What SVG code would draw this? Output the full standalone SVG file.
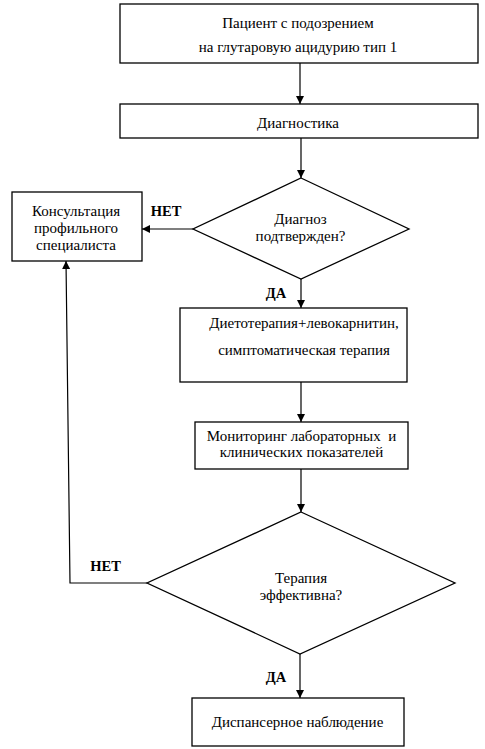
<svg xmlns="http://www.w3.org/2000/svg" width="485" height="749" viewBox="0 0 485 749">
<style>
.box{fill:#fff;stroke:#000;stroke-width:1.3}
.t{font-family:'Liberation Serif','Times New Roman','DejaVu Serif',serif;font-size:15px;fill:#000;text-anchor:middle;dominant-baseline:central}
.b{font-family:'Liberation Serif','Times New Roman','DejaVu Serif',serif;font-size:14.5px;font-weight:bold;fill:#000;text-anchor:middle;dominant-baseline:central}
.c{fill:none;stroke:#000;stroke-width:1.2}
</style>
<defs>
<marker id="ah" viewBox="0 0 10 10" refX="10" refY="5" markerWidth="8" markerHeight="8" markerUnits="userSpaceOnUse" orient="auto">
<path d="M0,0 L10,5 L0,10 z" fill="#000"/>
</marker>
</defs>
<rect width="485" height="749" fill="#fff"/>
<g id="connectors">
<line class="c" x1="300" y1="63" x2="300" y2="104" marker-end="url(#ah)"/>
<line class="c" x1="301" y1="138" x2="301" y2="178" marker-end="url(#ah)"/>
<line class="c" x1="193" y1="229" x2="142" y2="229" marker-end="url(#ah)"/>
<line class="c" x1="301" y1="279" x2="301" y2="308" marker-end="url(#ah)"/>
<line class="c" x1="301" y1="382" x2="301" y2="422" marker-end="url(#ah)"/>
<line class="c" x1="301" y1="469" x2="301" y2="512" marker-end="url(#ah)"/>
<polyline class="c" points="147,583 70,583 66,261" marker-end="url(#ah)"/>
<line class="c" x1="300" y1="654" x2="300" y2="698" marker-end="url(#ah)"/>
</g>
<g id="n1">
<rect class="box" x="120" y="4" width="358" height="59"/>
<text class="t" x="298" y="23">Пациент с подозрением</text>
<text class="t" x="298" y="47">на глутаровую ацидурию тип 1</text>
</g>
<g id="n2">
<rect class="box" x="120" y="104" width="358" height="34"/>
<text class="t" x="298" y="123">Диагностика</text>
</g>
<g id="d1">
<polygon class="box" points="301,178 409,229 301,279 193,229"/>
<text class="t" x="300.5" y="219">Диагноз</text>
<text class="t" x="300.5" y="236">подтвержден?</text>
</g>
<g id="n_consult">
<rect class="box" x="12" y="192" width="130" height="69"/>
<text class="t" x="76" y="211">Консультация</text>
<text class="t" x="76" y="228">профильного</text>
<text class="t" x="76" y="245">специалиста</text>
</g>
<g id="n3">
<rect class="box" x="180" y="308" width="227" height="74"/>
<text class="t" x="304" y="323">Диетотерапия+левокарнитин,</text>
<text class="t" x="304" y="350">симптоматическая терапия</text>
</g>
<g id="n4">
<rect class="box" x="195" y="422" width="213" height="47"/>
<text class="t" x="301.5" y="436" xml:space="preserve">Мониторинг лабораторных  и</text>
<text class="t" x="301.5" y="452">клинических показателей</text>
</g>
<g id="d2">
<polygon class="box" points="301,512 455,583 300,654 147,583"/>
<text class="t" x="301" y="578">Терапия</text>
<text class="t" x="301" y="595">эффективна?</text>
</g>
<g id="n5">
<rect class="box" x="192" y="698" width="212" height="48"/>
<text class="t" x="297.5" y="722">Диспансерное наблюдение</text>
</g>
<g id="labels">
<text class="b" x="166" y="211">НЕТ</text>
<text class="b" x="276" y="293">ДА</text>
<text class="b" x="105.5" y="566">НЕТ</text>
<text class="b" x="276" y="677">ДА</text>
</g>
</svg>
